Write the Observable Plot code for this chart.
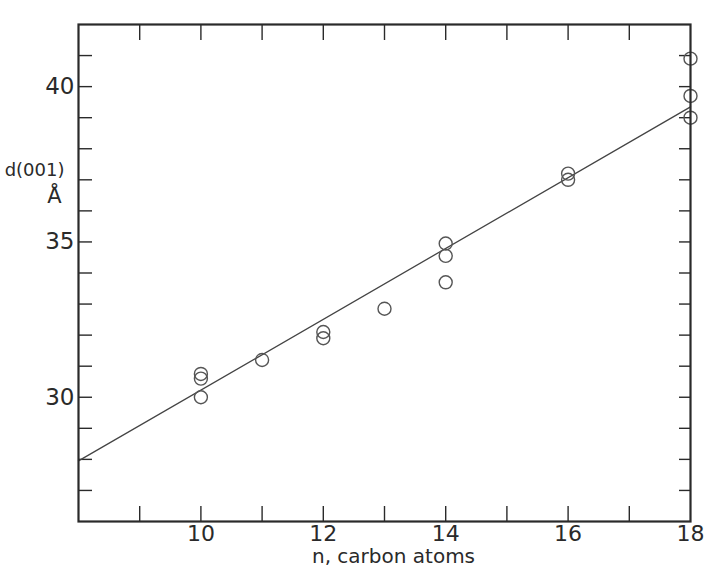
<!DOCTYPE html>
<html>
<head>
<meta charset="utf-8">
<script src="https://cdn.jsdelivr.net/npm/d3@7"></script>
<script src="https://cdn.jsdelivr.net/npm/@observablehq/plot@0.6"></script>
<style>
  html, body { margin: 0; padding: 0; background: #fff; }
  #chart { width: 707px; height: 569px; }
</style>
</head>
<body>
<div id="chart"></div>
<script>
// Observations: number of carbon atoms vs basal spacing d(001) in Å
const carbons = [10, 10, 10, 11, 12, 12, 13, 14, 14, 14, 16, 16, 18, 18, 18];
const spacing = [30.75, 30.6, 30.0, 31.2, 32.1, 31.9, 32.85, 34.95, 34.55, 33.7, 37.2, 37.0, 40.9, 39.7, 39.0];

// Fitted straight line (end points as drawn)
const fitCarbons = [8, 18];
const fitSpacing = [27.95, 39.35];

// Axis ticks and labels
const xDomain = [8, 18];
const yDomain = [26, 42];
const xTickValues = [9, 10, 11, 12, 13, 14, 15, 16, 17];
const xLabelValues = [10, 12, 14, 16, 18];
const yTickValues = [27, 28, 29, 30, 31, 32, 33, 34, 35, 36, 37, 38, 39, 40, 41];
const yLabelValues = [30, 35, 40];
const xTitle = "n, carbon atoms";
const yTitle1 = "d(001)";
const yTitle2 = "Å";

const points = carbons.map((c, i) => ({c, d: spacing[i]}));
const fit = fitCarbons.map((c, i) => ({c, d: fitSpacing[i]}));
const ink = "#2a2a2a";
const empty = () => "";

const chart = Plot.plot({
  width: 707,
  height: 569,
  marginLeft: 78,
  marginRight: 17,
  marginTop: 24,
  marginBottom: 48,
  style: {fontFamily: "DejaVu Sans", fontSize: "22px", color: ink, background: "#fff"},
  x: {domain: xDomain, label: null},
  y: {domain: yDomain, label: null},
  marks: [
    // inward ticks on all four sides
    Plot.axisX(xTickValues, {anchor: "bottom", tickSize: -15, tickFormat: empty, label: null, strokeWidth: 1.4}),
    Plot.axisX(xTickValues, {anchor: "top", tickSize: -15, tickFormat: empty, label: null, strokeWidth: 1.4}),
    Plot.axisY(yTickValues, {anchor: "left", tickSize: -14, tickFormat: empty, label: null, strokeWidth: 1.4}),
    Plot.axisY(yTickValues, {anchor: "right", tickSize: -12, tickFormat: empty, label: null, strokeWidth: 1.4}),
    // tick labels
    Plot.axisX(xLabelValues, {anchor: "bottom", tickSize: 0, tickPadding: 4, label: null, fontSize: 22}),
    Plot.axisY(yLabelValues, {anchor: "left", tickSize: 0, tickPadding: 4, label: null, fontSize: 23}),
    // axis titles
    Plot.text([xTitle], {text: d => d, frameAnchor: "bottom", dx: 9, dy: 35, lineAnchor: "middle", fontSize: 20, fill: ink}),
    Plot.text([yTitle1], {text: d => d, frameAnchor: "top-left", dx: -14, dy: 139, textAnchor: "end", fontSize: 18, fill: ink}),
    Plot.text([yTitle2], {text: d => d, frameAnchor: "top-left", dx: -17, dy: 164, textAnchor: "end", fontSize: 21, fill: ink}),
    // fitted line and observations
    Plot.line(fit, {x: "c", y: "d", stroke: "#444", strokeWidth: 1.3}),
    Plot.dot(points, {x: "c", y: "d", r: 6.5, stroke: "#555", strokeWidth: 1.4, fill: "none"}),
    Plot.frame({stroke: ink, strokeWidth: 2.2})
  ]
});
document.getElementById("chart").appendChild(chart);
</script>
</body>
</html>
